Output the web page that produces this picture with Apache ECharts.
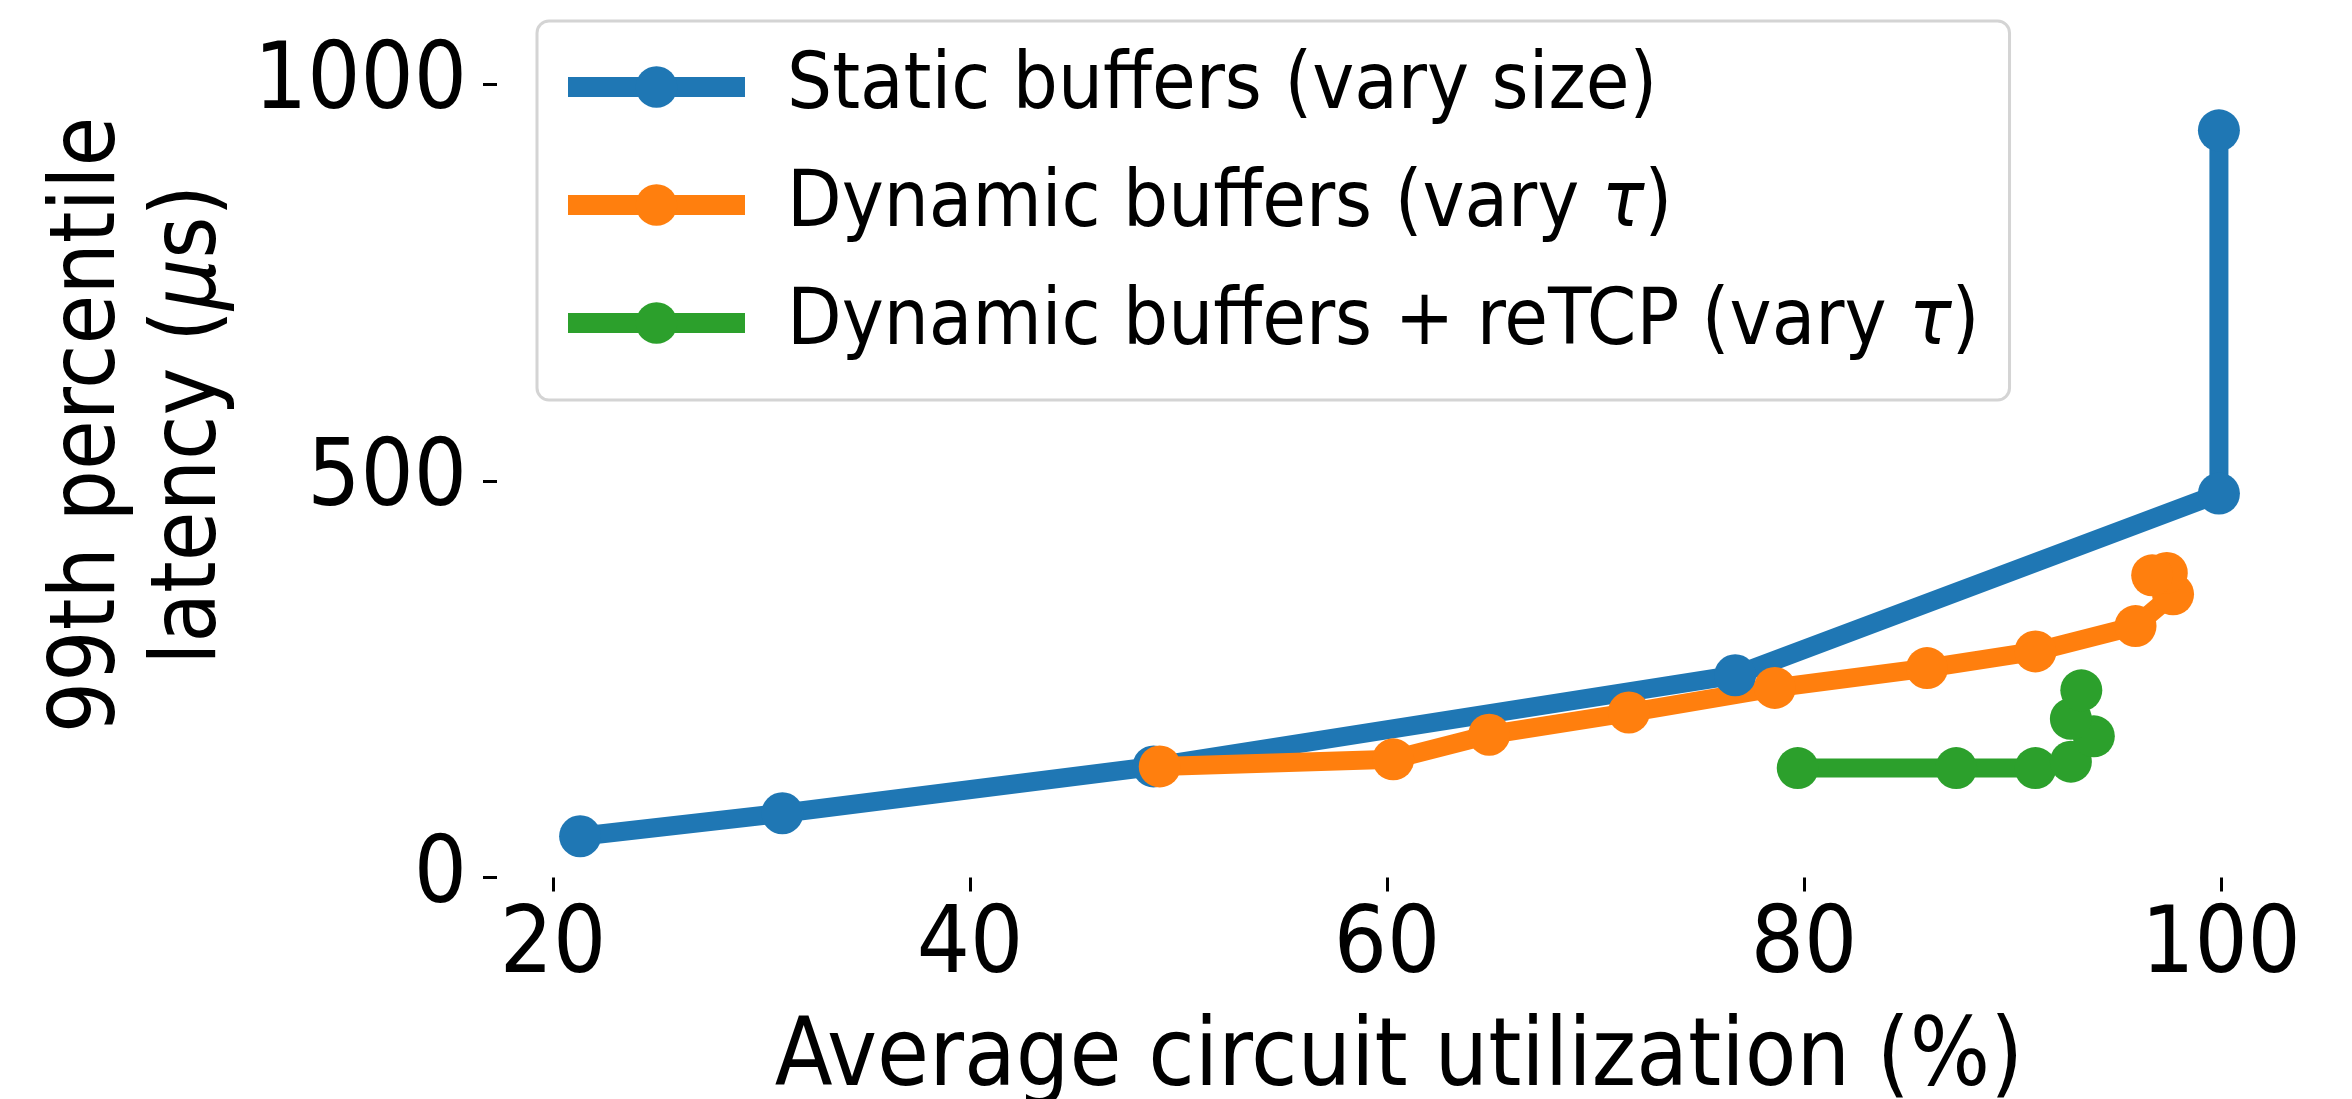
<!DOCTYPE html>
<html>
<head>
<meta charset="utf-8">
<script src="https://cdn.jsdelivr.net/npm/echarts@6/dist/echarts.min.js"></script>
<style>
  html, body { margin: 0; padding: 0; background: #ffffff; }
  #chart { width: 2352px; height: 1099px; }
</style>
</head>
<body>
<div id="chart"></div>
<script>
// Tail latency vs. circuit utilization for three buffering strategies
const FONT = "'DejaVu Sans Condensed', 'DejaVu Sans', sans-serif";

const seriesNames = [
  'Static buffers (vary size)',
  'Dynamic buffers (vary τ)',
  'Dynamic buffers + reTCP (vary τ)'
];
const seriesColors = ['#1f77b4', '#ff7f0e', '#2ca02c'];

// Static buffers: utilization (%) and 99th percentile latency (µs)
const staticUtil    = [21.3, 31.0, 48.8, 76.7, 99.9, 99.9];
const staticLatency = [52, 81, 140, 255, 484, 942];

// Dynamic buffers
const dynUtil    = [49.1, 60.3, 64.9, 71.6, 78.6, 85.9, 91.1, 95.9, 97.7, 97.4, 96.7];
const dynLatency = [140, 149, 180, 208, 239, 264, 285, 317, 357, 384, 381];

// Dynamic buffers + reTCP
const retcpUtil    = [79.7, 87.3, 91.1, 92.8, 93.9, 92.8, 93.3];
const retcpLatency = [138, 138, 138, 146, 178, 200, 236];

const xTicks = [20, 40, 60, 80, 100];
const yTicks = [0, 500, 1000];

const xLabel = 'Average circuit utilization (%)';
const yLabelLines = ['99th percentile', 'latency ({mu|μ}s)'];

function pairs(xs, ys) {
  return xs.map((x, i) => [x, ys[i]]);
}

function makeSeries(name, color, xs, ys) {
  return {
    name: name,
    type: 'line',
    data: pairs(xs, ys),
    symbol: 'circle',
    symbolSize: 42,
    showAllSymbol: true,
    clip: false,
    lineStyle: { color: color, width: 19, cap: 'butt', join: 'round' },
    itemStyle: { color: color, borderWidth: 0 },
    emphasis: { disabled: true },
    animation: false
  };
}

const chart = echarts.init(document.getElementById('chart'), null, { renderer: 'canvas' });

const option = {
  backgroundColor: '#ffffff',
  animation: false,
  grid: {
    left: 553, right: 131, top: 84.3, bottom: 221.5,
    containLabel: false,
    outerBoundsMode: 'none'
  },
  xAxis: {
    type: 'value',
    min: xTicks[0],
    max: xTicks[xTicks.length - 1],
    interval: xTicks[1] - xTicks[0],
    axisLine: { show: false },
    splitLine: { show: false },
    axisTick: { show: true, length: 14, lineStyle: { color: '#000', width: 3 } },
    axisLabel: { margin: 24, color: '#000', fontSize: 93, fontFamily: FONT, formatter: v => String(v) },
    name: xLabel,
    nameLocation: 'middle',
    nameGap: 136,
    nameTextStyle: { color: '#000', fontSize: 94, fontFamily: FONT, padding: [0, 0, 0, 24] }
  },
  yAxis: {
    type: 'value',
    min: yTicks[0],
    max: yTicks[yTicks.length - 1],
    interval: yTicks[1] - yTicks[0],
    offset: 56,
    axisLine: { show: false },
    splitLine: { show: false },
    axisTick: { show: true, length: 14, lineStyle: { color: '#000', width: 3 } },
    axisLabel: { margin: 30, color: '#000', fontSize: 93, fontFamily: FONT, formatter: v => String(v) }
  },
  legend: {
    orient: 'vertical',
    left: 537,
    top: 21,
    padding: [21, 30, 32, 21],
    itemWidth: 177,
    itemHeight: 52,
    itemGap: 28,
    backgroundColor: '#ffffff',
    borderColor: '#d4d4d4',
    borderWidth: 3,
    borderRadius: 12,
    lineStyle: { width: 20 },
    data: seriesNames,
    formatter: function (name) {
      return name.replace('τ', '{tau|τ}');
    },
    textStyle: {
      color: '#000',
      fontSize: 79,
      fontFamily: FONT,
      lineHeight: 90,
      padding: [0, 0, 0, 37],
      rich: {
        tau: { fontStyle: 'italic', fontSize: 79, fontFamily: FONT, lineHeight: 90, color: '#000' }
      }
    }
  },
  graphic: [{
    type: 'text',
    x: 141,
    y: 425,
    rotation: Math.PI / 2,
    style: {
      text: yLabelLines.join('\n'),
      fill: '#000',
      fontSize: 90,
      fontFamily: FONT,
      lineHeight: 101,
      align: 'center',
      verticalAlign: 'middle',
      rich: {
        mu: { fontStyle: 'italic', fontSize: 90, fontFamily: FONT, lineHeight: 101, fill: '#000' }
      }
    }
  }],
  series: [
    makeSeries(seriesNames[0], seriesColors[0], staticUtil, staticLatency),
    makeSeries(seriesNames[1], seriesColors[1], dynUtil, dynLatency),
    makeSeries(seriesNames[2], seriesColors[2], retcpUtil, retcpLatency)
  ]
};

chart.setOption(option);
</script>
</body>
</html>
